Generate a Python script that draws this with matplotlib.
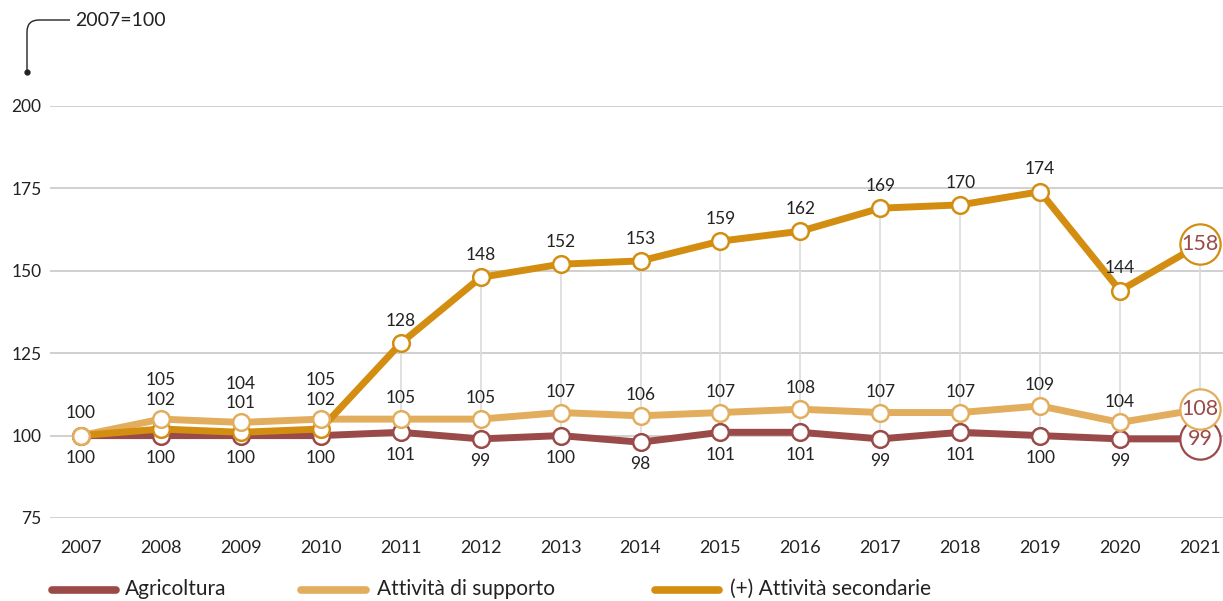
import matplotlib
matplotlib.use("Agg")
import matplotlib.pyplot as plt
from matplotlib.lines import Line2D
from matplotlib.path import Path
from matplotlib.patches import PathPatch

plt.rcParams['font.family'] = ['Lato', 'DejaVu Sans']

years = list(range(2007, 2022))
agricoltura = [100, 100, 100, 100, 101, 99, 100, 98, 101, 101, 99, 101, 100, 99, 99]
supporto = [100, 105, 104, 105, 105, 105, 107, 106, 107, 108, 107, 107, 109, 104, 108]
secondarie = [100, 102, 101, 102, 128, 148, 152, 153, 159, 162, 169, 170, 174, 144, 158]
y_ticks = [75, 100, 125, 150, 175, 200]
series_names = ["Agricoltura", "Attività di supporto", "(+) Attività secondarie"]

RED = "#9A4A48"
SAND = "#E2AD5C"
ORANGE = "#D38E12"
TEXT = "#222222"
GRID = "#C4C4C4"
DROP = "#DCDCDC"

W, H = 1223, 601
fig = plt.figure(figsize=(W / 100, H / 100), dpi=100)

# plot area in pixels
left_px, right_px, top_px, bottom_px = 50, 1223, 106, 518
ax = fig.add_axes([left_px / W, 1 - bottom_px / H,
                   (right_px - left_px) / W, (bottom_px - top_px) / H])
step = (1200 - 81) / 14
ax.set_xlim(2007 - (81 - left_px) / step, 2021 + (right_px - 1200) / step)
ax.set_ylim(75, 200)

for s in ax.spines.values():
    s.set_visible(False)
ax.set_yticks(y_ticks)
ax.set_yticklabels([str(v) for v in y_ticks])
ax.set_xticks(years)
ax.set_xticklabels([str(y) for y in years])
ax.tick_params(axis='y', length=0, pad=6, labelsize=12.5, labelcolor=TEXT)
ax.tick_params(axis='x', length=0, pad=16, labelsize=13, labelcolor=TEXT)
for v in y_ticks:
    ax.axhline(v, color=GRID, lw=1.1, zorder=0)

# vertical drop lines spanning each year's values
for i, yr in enumerate(years):
    vals = [agricoltura[i], supporto[i], secondarie[i]]
    if max(vals) > min(vals):
        ax.plot([yr, yr], [min(vals), max(vals)], color=DROP, lw=1.2, zorder=1)

line_series = [(agricoltura, RED), (supporto, SAND), (secondarie, ORANGE)]
for vals, col in line_series:
    ax.plot(years, vals, color=col, lw=5,
            solid_joinstyle='round', solid_capstyle='round', zorder=2)

marker_series = [(agricoltura, RED), (secondarie, ORANGE), (supporto, SAND)]
for vals, col in marker_series:
    ax.plot(years[:-1], vals[:-1], linestyle='none', marker='o', ms=12,
            mfc='white', mec=col, mew=1.8, zorder=3)
    ax.plot([years[-1]], [vals[-1]], linestyle='none', marker='o', ms=29,
            mfc='white', mec=col, mew=1.6, zorder=4, clip_on=False)
    ax.text(years[-1], vals[-1], str(vals[-1]), color=RED, fontsize=15.5,
            ha='center', va='center', zorder=5, clip_on=False)


def label(x, y, txt, dy):
    ax.annotate(txt, (x, y), xytext=(0, dy), textcoords='offset points',
                ha='center', va='center', fontsize=12.5, color=TEXT, zorder=6)


for i, yr in enumerate(years[:-1]):
    # agricoltura below, others above
    label(yr, agricoltura[i], str(agricoltura[i]), -16)
    if i == 0:
        label(yr, supporto[i], str(supporto[i]), 16)
    elif secondarie[i] < supporto[i]:
        label(yr, supporto[i], str(supporto[i]), 28)
        label(yr, supporto[i], str(secondarie[i]), 14)
    else:
        label(yr, supporto[i], str(supporto[i]), 15)
        label(yr, secondarie[i], str(secondarie[i]), 16)

# base-year note with a bent leader
px = lambda x, y: (x / W, 1 - y / H)
verts = [px(27, 72), px(27, 32), px(27, 20), px(39, 20), px(70, 20)]
codes = [Path.MOVETO, Path.LINETO, Path.CURVE3, Path.CURVE3, Path.LINETO]
fig.patches.append(PathPatch(Path(verts, codes), transform=fig.transFigure,
                             fill=False, color=TEXT, lw=1.0))
fig.add_artist(Line2D([27 / W], [1 - 72 / H], marker='o', ms=3.5,
                      color=TEXT, transform=fig.transFigure))
fig.text(75 / W, 1 - 21 / H, "2007=100", fontsize=14, color=TEXT,
         ha='left', va='center')

# legend
legend_items = [(52, 116, 125, RED), (301, 366, 377, SAND), (655, 719, 730, ORANGE)]
for (x0, x1, xt, col), name in zip(legend_items, series_names):
    fig.add_artist(Line2D([x0 / W, x1 / W], [1 - 590 / H] * 2, color=col, lw=5.5,
                          solid_capstyle='round', transform=fig.transFigure))
    fig.text(xt / W, 1 - 589 / H, name, fontsize=15, color=TEXT,
             ha='left', va='center')

fig.savefig("out.png", dpi=100)
